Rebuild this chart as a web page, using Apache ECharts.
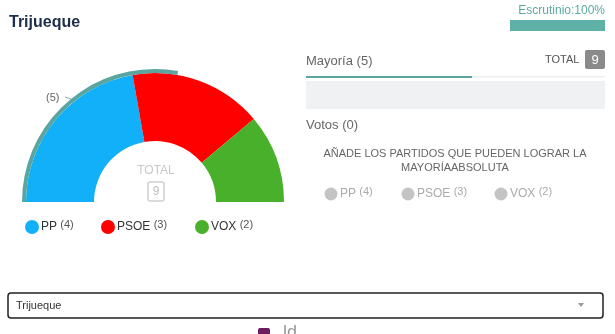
<!DOCTYPE html>
<html><head><meta charset="utf-8">
<script src="https://cdn.jsdelivr.net/npm/echarts@6/dist/echarts.min.js"></script>
<style>html,body{margin:0;padding:0;background:#fff}#c{width:615px;height:334px}</style>
</head><body><div id="c"></div>
<script>
const parties = ['PP', 'PSOE', 'VOX'];
const seats = [4, 3, 2];
const colors = ['#12b0f8', '#ff0000', '#48b02a'];
const totalSeats = 9;
const majority = 5;
const scrutiny = 100;
const votes = 0;
const town = 'Trijueque';

const chart = echarts.init(document.getElementById('c'), null, {renderer: 'canvas'});
const F = '"Liberation Sans", Arial, sans-serif';

const pieData = parties.map((p, i) => ({name: p, value: seats[i], itemStyle: {color: colors[i]}}));
pieData.push({name: 'rest', value: totalSeats, itemStyle: {color: 'transparent'}, label: {show: false}});

const majData = [
  {name: 'maj', value: majority, itemStyle: {color: '#5aa59f'}},
  {name: 'none', value: totalSeats * 2 - majority, itemStyle: {color: 'transparent'}}
];

const graphics = [];
function txt(x, y, s, size, color, opts) {
  graphics.push(Object.assign({type: 'text', x: x, y: y, style: Object.assign({text: s, font: size + 'px ' + F, fill: color, textVerticalAlign: 'middle'}, opts && opts.style || {})}, opts && opts.el || {}));
}
// Title
graphics.push({type: 'text', x: 9, y: 23, style: {text: town, font: 'bold 16px ' + F, fill: '#1d2e4b', textVerticalAlign: 'middle'}});
// Escrutinio
txt(605, 11, 'Escrutinio:' + scrutiny + '%', 12, '#5aa9a0', {style: {textAlign: 'right'}});
// center total
txt(156, 171, 'TOTAL', 12, '#c8c8c8', {style: {textAlign: 'center'}});
graphics.push({type: 'rect', shape: {x: 148, y: 182, width: 16, height: 19, r: 2}, style: {fill: 'none', stroke: '#d0d0d0', lineWidth: 1.5}});
txt(156, 192, String(totalSeats), 12, '#c0c0c0', {style: {textAlign: 'center'}});
// majority label
txt(46, 98, '(' + majority + ')', 11, '#666');
graphics.push({type: 'line', shape: {x1: 65, y1: 97, x2: 71, y2: 99}, style: {stroke: '#8ab', lineWidth: 1}});
// left legend
const legX = [32, 108, 202];
parties.forEach((p, i) => {
  graphics.push({type: 'circle', shape: {cx: legX[i], cy: 227, r: 7}, style: {fill: colors[i]}});
  graphics.push({type: 'text', x: legX[i] + 9, y: 227, style: {rich: {a: {font: '12px ' + F, fill: '#333'}, b: {font: '11px ' + F, fill: '#555', padding: [0,0,4,0]}}, text: '{a|' + p + '} {b|(' + seats[i] + ')}', textVerticalAlign: 'middle'}});
});
// right panel
txt(306, 61, 'Mayoría (' + majority + ')', 13, '#666');
txt(545, 60, 'TOTAL', 11, '#555');
graphics.push({type: 'rect', shape: {x: 585, y: 50, width: 20, height: 19, r: 2}, style: {fill: '#8a8a8a'}});
txt(595, 60, String(totalSeats), 13, '#fff', {style: {textAlign: 'center'}});
graphics.push({type: 'rect', shape: {x: 306, y: 81, width: 299, height: 28}, style: {fill: '#eff1f2'}});
txt(306, 125, 'Votos (' + votes + ')', 13, '#666');
txt(455, 154, 'AÑADE LOS PARTIDOS QUE PUEDEN LOGRAR LA', 11, '#666', {style: {textAlign: 'center'}});
txt(455, 168, 'MAYORÍAABSOLUTA', 11, '#666', {style: {textAlign: 'center'}});
const legX2 = [331, 408, 501];
parties.forEach((p, i) => {
  graphics.push({type: 'circle', shape: {cx: legX2[i], cy: 194, r: 6.5}, style: {fill: '#c4c4c4'}});
  graphics.push({type: 'text', x: legX2[i] + 9, y: 194, style: {rich: {a: {font: '12px ' + F, fill: '#aaa'}, b: {font: '11px ' + F, fill: '#aaa', padding: [0,0,4,0]}}, text: '{a|' + p + '} {b|(' + seats[i] + ')}', textVerticalAlign: 'middle'}});
});
// dropdown
graphics.push({type: 'rect', shape: {x: 8, y: 293, width: 595, height: 25, r: 3}, style: {fill: '#fff', stroke: '#222', lineWidth: 1.5}});
txt(16, 306, town, 11, '#333');
graphics.push({type: 'polygon', shape: {points: [[578, 303], [584, 303], [581, 307]]}, style: {fill: '#999'}});
// logo fragment
graphics.push({type: 'rect', shape: {x: 258, y: 328, width: 12, height: 10, r: 2}, style: {fill: '#6b1d5e'}});
txt(283, 342, 'ld', 18, '#999', {style: {textVerticalAlign: 'bottom'}});

chart.setOption({
  animation: false,
  backgroundColor: '#fff',
  grid: [
    {left: 306, top: 76, width: 299, height: 2},
    {left: 510, top: 20, width: 95, height: 11}
  ],
  xAxis: [
    {gridIndex: 0, type: 'value', min: 0, max: totalSeats, show: false},
    {gridIndex: 1, type: 'value', min: 0, max: 100, show: false}
  ],
  yAxis: [
    {gridIndex: 0, type: 'category', data: ['m'], show: false},
    {gridIndex: 1, type: 'category', data: ['e'], show: false}
  ],
  series: [
    {type: 'pie', radius: [61, 129], center: [155, 202], startAngle: 180, clockwise: true,
     label: {show: false}, labelLine: {show: false}, silent: true, data: pieData,
     itemStyle: {borderWidth: 0}},
    {type: 'pie', radius: [129, 133], center: [155, 202], startAngle: 180, clockwise: true,
     label: {show: false}, labelLine: {show: false}, silent: true, data: majData},
    {type: 'bar', xAxisIndex: 0, yAxisIndex: 0, data: [totalSeats], barWidth: 2, barGap: '-100%', itemStyle: {color: '#eceff0'}, silent: true},
    {type: 'bar', xAxisIndex: 0, yAxisIndex: 0, data: [majority], barWidth: 3, itemStyle: {color: '#5aa59f'}, silent: true},
    {type: 'bar', xAxisIndex: 1, yAxisIndex: 1, data: [scrutiny], barWidth: 11, itemStyle: {color: '#5fb0a6'}, silent: true}
  ],
  graphic: graphics
});
</script></body></html>
